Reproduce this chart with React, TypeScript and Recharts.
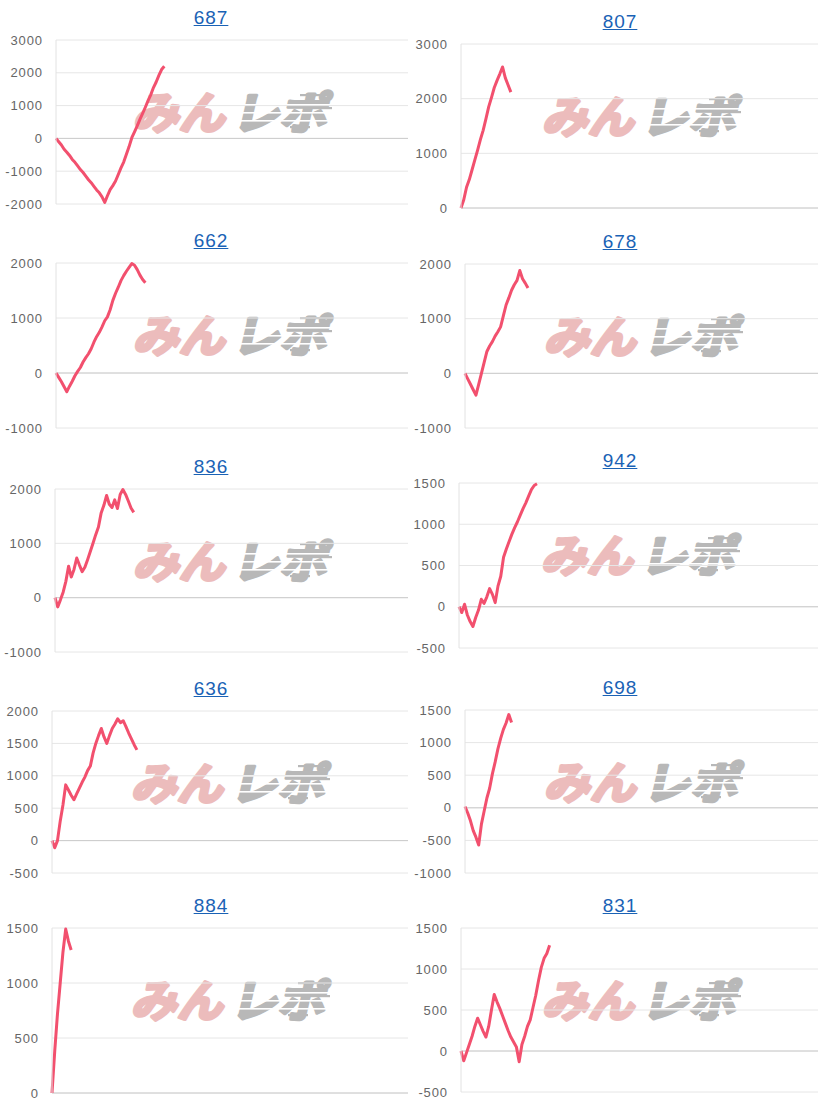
import React from 'react';
import { LineChart, Line, XAxis, YAxis, CartesianGrid, ReferenceLine } from 'recharts';

// Machine numbers shown above each graph
const TITLES = ['687', '807', '662', '678', '836', '942', '636', '698', '884', '831'];

// Running balance per game, one array per machine
const BAL_687 = [0, -100, -200, -330, -420, -520, -640, -730, -840, -950, -1040, -1150, -1260, -1350, -1460, -1570, -1660, -1780, -1950, -1750, -1560, -1440, -1300, -1100, -900, -720, -480, -250, 20, 200, 380, 580, 760, 950, 1150, 1330, 1550, 1720, 1920, 2100, 2200];
const BAL_807 = [0, 150, 380, 520, 700, 880, 1060, 1250, 1420, 1630, 1850, 2020, 2200, 2330, 2450, 2580, 2380, 2250, 2120];
const BAL_662 = [0, -80, -160, -250, -340, -240, -150, -50, 30, 100, 200, 280, 350, 440, 560, 660, 740, 840, 950, 1020, 1150, 1320, 1450, 1560, 1680, 1770, 1850, 1920, 1990, 1960, 1880, 1780, 1700, 1640];
const BAL_678 = [0, -100, -200, -300, -400, -200, 0, 200, 400, 500, 580, 680, 760, 850, 1050, 1250, 1380, 1520, 1620, 1700, 1880, 1730, 1650, 1560];
const BAL_836 = [0, -170, -40, 100, 300, 580, 380, 520, 730, 600, 480, 560, 700, 850, 1000, 1160, 1300, 1560, 1700, 1880, 1720, 1660, 1800, 1640, 1900, 1990, 1900, 1780, 1650, 1570];
const BAL_942 = [0, -70, 30, -100, -180, -240, -130, -40, 90, 40, 120, 220, 150, 50, 250, 370, 600, 700, 790, 880, 960, 1030, 1110, 1190, 1260, 1340, 1420, 1470, 1490];
const BAL_636 = [0, -110, 0, 300, 550, 860, 780, 700, 630, 720, 810, 900, 980, 1080, 1150, 1350, 1500, 1620, 1730, 1600, 1500, 1620, 1730, 1800, 1880, 1820, 1850, 1760, 1660, 1570, 1480, 1400];
const BAL_698 = [20, -80, -200, -350, -450, -570, -250, -50, 150, 300, 520, 700, 900, 1060, 1200, 1300, 1430, 1310];
const BAL_884 = [0, 380, 720, 1000, 1280, 1490, 1380, 1300];
const BAL_831 = [0, -120, -20, 80, 180, 300, 400, 320, 240, 170, 300, 500, 690, 600, 520, 430, 340, 250, 170, 110, 50, -130, 80, 180, 300, 380, 530, 680, 860, 1020, 1130, 1190, 1290];

const SERIES = [BAL_687, BAL_807, BAL_662, BAL_678, BAL_836, BAL_942, BAL_636, BAL_698, BAL_884, BAL_831];

// Y-axis tick values per graph
const TICKS_687 = [-2000, -1000, 0, 1000, 2000, 3000];
const TICKS_807 = [0, 1000, 2000, 3000];
const TICKS_662 = [-1000, 0, 1000, 2000];
const TICKS_678 = [-1000, 0, 1000, 2000];
const TICKS_836 = [-1000, 0, 1000, 2000];
const TICKS_942 = [-500, 0, 500, 1000, 1500];
const TICKS_636 = [-500, 0, 500, 1000, 1500, 2000];
const TICKS_698 = [-1000, -500, 0, 500, 1000, 1500];
const TICKS_884 = [0, 500, 1000, 1500];
const TICKS_831 = [-500, 0, 500, 1000, 1500];

const TICKS = [TICKS_687, TICKS_807, TICKS_662, TICKS_678, TICKS_836, TICKS_942, TICKS_636, TICKS_698, TICKS_884, TICKS_831];

// Number of game slots covered by the horizontal axis
const X_SPAN = 130;

// Panel geometry (page pixels): column origin, plot box edges
const COL_X = [0, 410];
const PLOT_RIGHT = [408, 821];
const TITLE_CX = [211, 620];
const PLOT_LEFT = [56, 461, 56, 465, 55, 459, 52, 465, 52, 461];
const PLOT_TOP = [40, 44, 263, 264, 489, 483, 711, 710, 928, 928];
const PLOT_BOTTOM = [204, 208, 428, 428, 652, 648, 873, 873, 1093, 1092];

const FONT = "'Liberation Sans', Arial, sans-serif";
const LINE_COLOR = '#f2506e';
const LOGO_PINK = '#ecbcbc';
const LOGO_GREY = '#b8b8b8';

function Watermark({ cx, cy }: { cx: number; cy: number }) {
  const w = 224;
  const h = 52;
  const glyph = {
    fontSize: 44,
    fontWeight: 700,
    fontFamily: "'Noto Sans CJK JP', sans-serif",
    strokeWidth: 3.4,
    strokeLinejoin: 'round' as const,
    lengthAdjust: 'spacingAndGlyphs' as const,
  };
  return (
    <svg
      style={{ position: 'absolute', left: cx - w / 2, top: cy - h / 2, overflow: 'visible' }}
      width={w}
      height={h}
      viewBox={`0 0 ${w} ${h}`}
    >
      <g transform="translate(21,7) skewX(-13)">
        <text x={0} y={36} {...glyph} fill={LOGO_PINK} stroke={LOGO_PINK} textLength={92}>
          みん
        </text>
        <text x={99} y={36} {...glyph} fill={LOGO_GREY} stroke={LOGO_GREY} textLength={95}>
          レポ
        </text>
      </g>
      {/* speed stripes across the grey half of the logo */}
      <g transform="translate(12,7)">
        <rect x={96} y={11} width={104} height={1.6} fill="#ffffff" />
        <rect x={96} y={19} width={104} height={1.6} fill="#ffffff" />
        <rect x={96} y={27} width={104} height={1.6} fill="#ffffff" />
        <rect x={168} y={1} width={30} height={2.2} fill={LOGO_GREY} />
        <rect x={176} y={14} width={24} height={2.2} fill={LOGO_GREY} />
        <rect x={158} y={33} width={20} height={2.2} fill={LOGO_GREY} />
      </g>
    </svg>
  );
}

function Panel({ idx }: { idx: number }) {
  const col = idx % 2;
  const colX = COL_X[col];
  const plotLeft = PLOT_LEFT[idx];
  const plotTop = PLOT_TOP[idx];
  const plotBottom = PLOT_BOTTOM[idx];
  const plotRight = PLOT_RIGHT[col];
  const ticks = TICKS[idx];
  const data = SERIES[idx].map((v, i) => ({ i, v }));
  const marginV = 10;
  const width = plotRight - colX;
  const height = plotBottom - plotTop + marginV * 2;

  return (
    <>
      <div
        style={{
          position: 'absolute',
          left: TITLE_CX[col] - 60,
          top: plotTop - 22.5 - 10.8,
          width: 120,
          height: 22,
          lineHeight: '22px',
          textAlign: 'center',
          fontFamily: FONT,
          fontSize: 19,
          letterSpacing: 1,
        }}
      >
        <a href="#" style={{ color: '#1a62b5', textDecoration: 'underline' }}>
          {TITLES[idx]}
        </a>
      </div>
      <Watermark cx={(plotLeft + plotRight) / 2} cy={plotTop + 72} />
      <div style={{ position: 'absolute', left: colX, top: plotTop - marginV }}>
        <LineChart
          width={width}
          height={height}
          data={data}
          margin={{ top: marginV, right: 0, bottom: marginV, left: 0 }}
        >
          <CartesianGrid vertical={false} stroke="#e6e6e6" strokeWidth={1} />
          <XAxis dataKey="i" type="number" domain={[0, X_SPAN]} hide />
          <YAxis
            type="number"
            domain={[ticks[0], ticks[ticks.length - 1]]}
            ticks={ticks}
            width={plotLeft - colX}
            tickLine={false}
            tickMargin={7}
            axisLine={{ stroke: '#e2e2e2' }}
            tick={{ fill: '#666666', fontSize: 13, fontFamily: FONT, letterSpacing: 0.9 }}
            interval={0}
          />
          <ReferenceLine y={0} stroke="#cccccc" strokeWidth={1} />
          <Line
            type="linear"
            dataKey="v"
            stroke={LINE_COLOR}
            strokeWidth={3}
            strokeLinejoin="round"
            dot={false}
            activeDot={false}
            isAnimationActive={false}
          />
        </LineChart>
      </div>
    </>
  );
}

export default function App() {
  return (
    <div
      style={{
        position: 'absolute',
        left: 0,
        top: 0,
        width: 818,
        height: 1110,
        overflow: 'hidden',
        background: '#ffffff',
      }}
    >
      {TITLES.map((_, i) => (
        <Panel key={i} idx={i} />
      ))}
    </div>
  );
}
